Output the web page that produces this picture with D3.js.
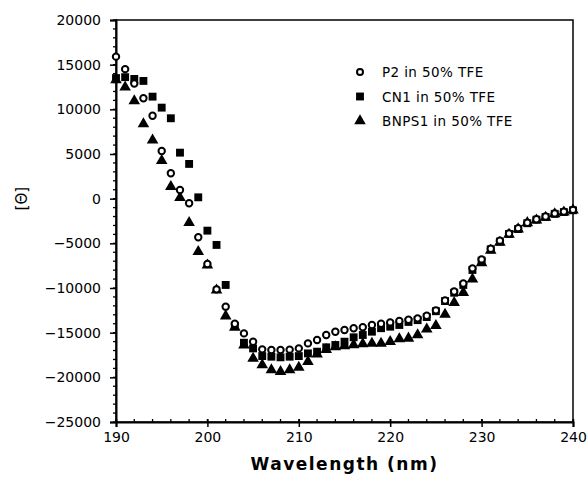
<!DOCTYPE html>
<html>
<head>
<meta charset="utf-8">
<script src="https://cdn.jsdelivr.net/npm/d3@7"></script>
<style>
body { margin: 0; background: #fff; }
text { font-family: "DejaVu Sans", sans-serif; fill: #000; }
</style>
</head>
<body>
<div id="chart"></div>
<script>
var wavelength = [190,191,192,193,194,195,196,197,198,199,200,201,202,203,204,205,206,207,208,209,210,211,212,213,214,215,216,217,218,219,220,221,222,223,224,225,226,227,228,229,230,231,232,233,234,235,236,237,238,239,240];
var p2 = [15900,14500,12900,11240,9290,5340,2840,970,-520,-4320,-7310,-10150,-12090,-14000,-15080,-16010,-16870,-16940,-16940,-16900,-16760,-16200,-15820,-15260,-14890,-14700,-14500,-14400,-14140,-14000,-13850,-13700,-13550,-13400,-13100,-12500,-11400,-10400,-9500,-7800,-6800,-5600,-4700,-3900,-3300,-2700,-2300,-2000,-1650,-1450,-1250];
var cn1 = [13500,13600,13400,13180,11420,10190,9000,5150,3890,150,-3580,-5180,-9660,-14250,-16130,-16760,-17620,-17690,-17760,-17690,-17620,-17320,-17130,-16640,-16380,-16010,-15520,-15260,-14890,-14500,-14330,-14140,-13800,-13600,-13250,-12600,-11460,-10530,-9660,-7980,-6940,-5670,-4810,-3950,-3400,-2750,-2350,-2050,-1700,-1500,-1300];
var bnps1 = [13300,12470,10930,8360,6550,4260,1340,110,-2690,-5930,-7450,-10250,-13140,-14400,-16400,-17880,-18620,-19170,-19370,-19170,-18880,-18250,-17400,-16900,-16600,-16490,-16380,-16270,-16200,-16200,-16010,-15710,-15630,-15260,-14620,-14220,-12950,-11650,-10530,-9020,-7200,-5800,-4900,-4000,-3400,-2700,-2400,-2100,-1700,-1500,-1300];
var seriesNames = ["P2 in 50% TFE", "CN1 in 50% TFE", "BNPS1 in 50% TFE"];
var xTicks = [190,200,210,220,230,240];
var yTicks = [20000,15000,10000,5000,0,-5000,-10000,-15000,-20000,-25000];

var width = 587, height = 480;
var margin = {left: 116, right: 14, top: 20, bottom: 58};

var svg = d3.select("#chart").append("svg")
    .attr("width", width)
    .attr("height", height);

var x = d3.scaleLinear()
    .domain([190, 240])
    .range([margin.left, width - margin.right]);
var y = d3.scaleLinear()
    .domain([-25000, 20000])
    .range([height - margin.bottom, margin.top]);

// frame
svg.append("rect")
    .attr("x", x(190))
    .attr("y", y(20000))
    .attr("width", x(240) - x(190))
    .attr("height", y(-25000) - y(20000))
    .attr("fill", "none")
    .attr("stroke", "#000")
    .attr("stroke-width", 1.5);

// minor ticks
var yMinor = d3.range(-25000, 20001, 1000);
svg.selectAll(".ymin")
    .data(yMinor)
    .enter().append("line")
    .attr("x1", x(190) - 3)
    .attr("x2", x(190) + 1)
    .attr("y1", function(d) { return y(d); })
    .attr("y2", function(d) { return y(d); })
    .attr("stroke", "#000")
    .attr("stroke-width", 1.3);
var xMinor = d3.range(190, 241, 2);
svg.selectAll(".xmin")
    .data(xMinor)
    .enter().append("line")
    .attr("x1", function(d) { return x(d); })
    .attr("x2", function(d) { return x(d); })
    .attr("y1", y(-25000) - 3)
    .attr("y2", y(-25000) + 1)
    .attr("stroke", "#000")
    .attr("stroke-width", 1.3);

var yAxis = svg.append("g")
    .attr("transform", "translate(" + x(190) + ",0)")
    .call(d3.axisLeft(y).tickValues(yTicks).tickSize(6).tickPadding(9).tickFormat(d3.format("d")));
var xAxis = svg.append("g")
    .attr("transform", "translate(0," + y(-25000) + ")")
    .call(d3.axisBottom(x).tickValues(xTicks).tickSize(5).tickPadding(5));

[yAxis, xAxis].forEach(function(g) {
    g.select(".domain").attr("stroke-width", 2);
    g.selectAll(".tick line").attr("stroke-width", 1.5);
    g.selectAll("text").attr("font-size", 14).attr("font-family", "DejaVu Sans");
});
xAxis.selectAll(".tick line").attr("y1", -3);

// axis titles
svg.append("text")
    .attr("x", (x(190) + x(240)) / 2)
    .attr("y", 470)
    .attr("text-anchor", "middle")
    .attr("font-size", 17)
    .attr("font-weight", "bold")
    .attr("letter-spacing", 1.5)
    .text("Wavelength  (nm)");
svg.append("text")
    .attr("transform", "translate(27," + y(0) + ") rotate(-90)")
    .attr("text-anchor", "middle")
    .attr("font-size", 15)
    .text("[\u0398]");

var tri = d3.symbol().type(d3.symbolTriangle).size(58);
var sq = d3.symbol().type(d3.symbolSquare).size(62);

function drawSeries(vals, kind) {
    var g = svg.append("g");
    var pts = wavelength.map(function(w, i) { return [w, vals[i]]; });
    if (kind === "circle") {
        g.selectAll("circle").data(pts).enter().append("circle")
            .attr("cx", function(d) { return x(d[0]); })
            .attr("cy", function(d) { return y(d[1]); })
            .attr("r", 3.2)
            .attr("fill", "#fff")
            .attr("stroke", "#000")
            .attr("stroke-width", 2);
    } else {
        g.selectAll("path").data(pts).enter().append("path")
            .attr("d", kind === "square" ? sq : tri)
            .attr("transform", function(d) { return "translate(" + x(d[0]) + "," + y(d[1]) + ")"; })
            .attr("fill", "#000");
    }
}
drawSeries(bnps1, "triangle");
drawSeries(cn1, "square");
drawSeries(p2, "circle");

// legend
var legend = svg.append("g");
var kinds = ["circle", "square", "triangle"];
seriesNames.forEach(function(name, i) {
    var ly = 72 + i * 24.5;
    if (kinds[i] === "circle") {
        legend.append("circle").attr("cx", 360).attr("cy", ly).attr("r", 3)
            .attr("fill", "#fff").attr("stroke", "#000").attr("stroke-width", 2);
    } else {
        legend.append("path").attr("d", kinds[i] === "square" ? sq : tri)
            .attr("transform", "translate(360," + ly + ")").attr("fill", "#000");
    }
    legend.append("text")
        .attr("x", 382)
        .attr("y", ly + 5)
        .attr("font-size", 13.5)
        .attr("letter-spacing", 0.4)
        .text(name);
});
</script>
</body>
</html>
